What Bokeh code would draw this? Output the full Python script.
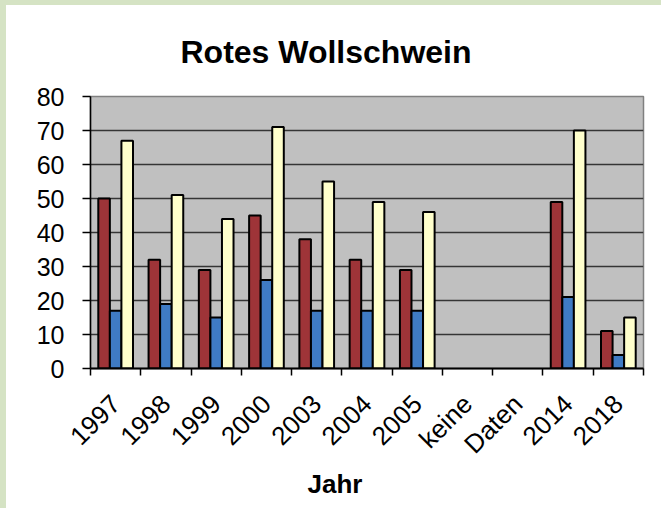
import numpy as np
from jinja2 import Template
from bokeh.plotting import figure
from bokeh.models import Range1d, FixedTicker, Title, ColumnDataSource
from bokeh.transform import dodge
from bokeh.embed import file_html
from bokeh.resources import INLINE
from bokeh.core.templates import FILE

# ---- data ----
categories = ["1997", "1998", "1999", "2000", "2003", "2004", "2005", "keine", "Daten", "2014", "2018"]
data_years = ["1997", "1998", "1999", "2000", "2003", "2004", "2005", "2014", "2018"]
series_red = [50, 32, 29, 45, 38, 32, 29, 49, 11]
series_blue = [17, 19, 15, 26, 17, 17, 17, 21, 4]
series_yellow = [67, 51, 44, 71, 55, 49, 46, 70, 15]
y_ticks = [0, 10, 20, 30, 40, 50, 60, 70, 80]

FONT = "Liberation Sans"

centers = [i + 0.5 for i in range(len(categories))]
bounds = [float(i) for i in range(len(categories) + 1)]
xpos = np.array([categories.index(c) + 0.5 for c in data_years])

source = ColumnDataSource(dict(x=xpos, red=series_red, blue=series_blue, yellow=series_yellow))

p = figure(width=660, height=507, output_backend="svg", toolbar_location=None,
           x_range=Range1d(0, len(categories)), y_range=Range1d(0, 80),
           min_border_left=90, min_border_right=17, min_border_top=96, min_border_bottom=139)

p.background_fill_color = "#C0C0C0"
p.border_fill_color = None
p.outline_line_color = "#808080"
p.outline_line_width = 1.5

bw = 0.23
p.vbar(x=dodge("x", -bw, range=p.x_range), top="red", width=bw, source=source,
       fill_color="#9E3438", line_color="black", line_width=2)
p.vbar(x=dodge("x", 0, range=p.x_range), top="blue", width=bw, source=source,
       fill_color="#3F7BC4", line_color="black", line_width=2)
p.vbar(x=dodge("x", bw, range=p.x_range), top="yellow", width=bw, source=source,
       fill_color="#FFFFCC", line_color="black", line_width=2)

# grid
p.xgrid.grid_line_color = None
p.ygrid.ticker = FixedTicker(ticks=y_ticks)
p.ygrid.grid_line_color = "#353535"
p.ygrid.grid_line_width = 1.5

# y axis
p.yaxis.ticker = FixedTicker(ticks=y_ticks)
p.yaxis.major_tick_out = 8
p.yaxis.major_tick_in = 0
p.yaxis.minor_tick_line_color = None
p.yaxis.major_label_standoff = 18
p.yaxis.major_label_text_font = FONT
p.yaxis.major_label_text_font_size = "25px"
p.yaxis.major_label_text_color = "black"
p.yaxis.axis_line_color = "black"
p.yaxis.axis_line_width = 1.5
p.yaxis.major_tick_line_width = 1.5

# x axis: labels at centers, ticks at category boundaries
p.xaxis.ticker = FixedTicker(ticks=centers, minor_ticks=bounds)
p.xaxis.major_label_overrides = {c: lab for c, lab in zip(centers, categories)}
p.xaxis.major_tick_line_color = None
p.xaxis.major_tick_out = 0
p.xaxis.major_tick_in = 0
p.xaxis.minor_tick_out = 7
p.xaxis.minor_tick_in = 0
p.xaxis.minor_tick_line_color = "black"
p.xaxis.minor_tick_line_width = 1.5
p.xaxis.major_label_orientation = np.pi / 4
p.xaxis.major_label_standoff = 24
p.xaxis.major_label_text_font = FONT
p.xaxis.major_label_text_font_size = "26px"
p.xaxis.major_label_text_color = "black"
p.xaxis.axis_line_color = "black"
p.xaxis.axis_line_width = 2

# title
p.title.text = "Rotes Wollschwein"
p.title.align = "left"
p.title.offset = 90
p.title.standoff = 54
p.title.text_font = FONT
p.title.text_font_size = "32px"
p.title.text_font_style = "bold"
p.title.text_color = "black"

xlabel = Title(text="Jahr", align="left", offset=217, text_font=FONT,
               text_font_size="26px", text_font_style="bold", text_color="black",
               standoff=-11)
p.add_layout(xlabel, "below")

tmpl = Template("""{% extends base %}
{% block preamble %}<style>html{background:#ffffff; box-shadow: inset 6px 5px 0 0 #d5e3c4;}</style>{% endblock %}""")

try:
    html = file_html(p, INLINE, template=tmpl, template_variables={"base": FILE})
except Exception:
    html = file_html(p, INLINE)

open("out.html", "w").write(html)
